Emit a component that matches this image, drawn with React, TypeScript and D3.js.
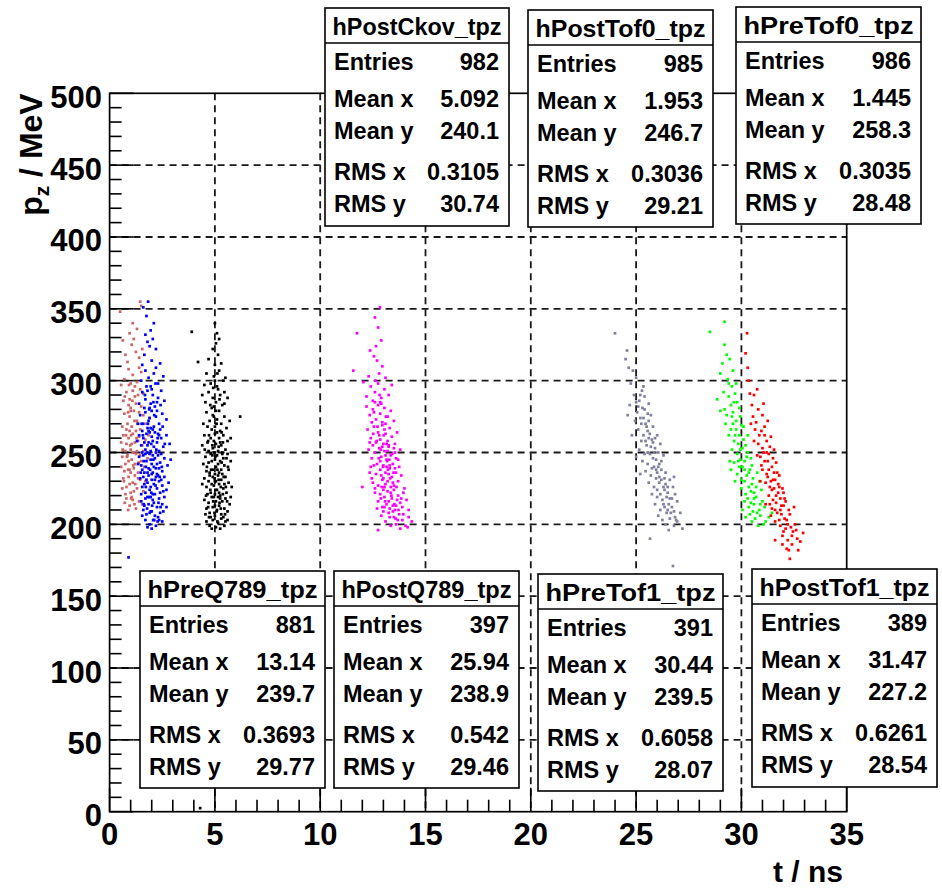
import React from 'react';
import * as d3 from 'd3';

// ---------- data ----------
const xMajorTicks = [0, 5, 10, 15, 20, 25, 30, 35];
const yMajorTicks = [0, 50, 100, 150, 200, 250, 300, 350, 400, 450, 500];
const xGridTicks = [5, 10, 15, 20, 25, 30];
const yGridTicks = [50, 100, 150, 200, 250, 300, 350, 400, 450];

const seriesNames = ['hPreTof0_tpz', 'hPostTof0_tpz', 'hPostCkov_tpz', 'hPreQ789_tpz', 'hPostQ789_tpz', 'hPreTof1_tpz', 'hPostTof1_tpz'];
const statEntries = ['986', '985', '982', '881', '397', '391', '389'];
const statMeanX = ['1.445', '1.953', '5.092', '13.14', '25.94', '30.44', '31.47'];
const statMeanY = ['258.3', '246.7', '240.1', '239.7', '238.9', '239.5', '227.2'];
const statRmsX = ['0.3035', '0.3036', '0.3105', '0.3693', '0.542', '0.6058', '0.6261'];
const statRmsY = ['28.48', '29.21', '30.74', '29.77', '29.46', '28.07', '28.54'];
const statLabels = ['Entries', 'Mean x', 'Mean y', 'RMS x', 'RMS y'];

const hPreTof0 = [
  [1.45,355],[1.5,352],[0.5,348],[1.1,340],[1.3,336],[0.95,333],
  [0.63,328],[1.05,325],[1.25,320],[1.4,316],[0.85,313],[1.15,329],[1.55,322],[0.75,318],
  [0.9,308],[1.1,304],[1.3,299],[1.5,306],[0.7,301],[1.2,296],[1.0,298],[1.4,309],[0.55,297],
  [0.8,292],[0.95,287],[1.1,293],[1.25,284],[1.35,290],[1.5,282],[0.65,286],[1.0,281],[1.2,289],[1.6,291],[0.9,283],[1.45,294],
  [0.7,277],[0.85,270],[0.95,275],[1.05,268],[1.15,279],[1.3,272],[1.45,266],[1.6,276],[1.75,270],[0.6,268],[1.0,279],[1.25,265],[1.4,278],[0.8,266],[1.9,274],
  [0.65,262],[0.8,256],[0.9,260],[1.0,252],[1.1,263],[1.2,257],[1.3,251],[1.4,261],[1.55,255],[1.7,259],[0.75,251],[0.95,265],[1.15,250],[1.35,258],[1.85,262],[1.05,256],[0.55,257],[1.6,251],
  [0.6,247],[0.75,242],[0.85,248],[0.95,238],[1.05,245],[1.15,239],[1.25,249],[1.35,236],[1.5,244],[1.65,240],[0.7,237],[0.9,244],[1.1,250],[1.2,242],[1.45,248],[1.8,246],[1.0,236],[0.55,240],
  [0.65,232],[0.8,226],[0.9,233],[1.0,222],[1.1,229],[1.2,234],[1.3,225],[1.45,231],[1.6,223],[0.75,221],[0.95,228],[1.15,223],[1.35,232],[0.6,225],[1.7,230],
  [0.8,218],[0.95,213],[1.1,217],[1.25,211],[1.4,216],[0.88,210],[1.55,214],[1.05,219],
  [0.72,289],[0.88,278],[1.02,262],[1.18,272],[0.82,247],[0.98,255],[1.12,241],[1.28,260],[0.68,230],[0.88,238],
  [1.02,218],[1.22,228],[0.78,262],[1.38,243],[0.92,297],[1.08,286],[0.62,252],[1.32,270],[0.72,215],[1.18,214]
];

const hPostTof0 = [
  [1.83,355],[1.6,351],[1.75,345],[2.1,340],[1.95,335],[1.7,332],
  [1.8,327],[2.2,322],[1.65,318],[2.0,314],[1.9,324],[2.4,312],[1.55,311],[2.05,329],
  [1.7,307],[1.85,302],[2.1,305],[2.3,298],[1.5,300],[1.95,296],[2.55,303],[1.75,296],[2.2,309],
  [1.55,292],[1.7,287],[1.8,293],[1.95,284],[2.05,290],[2.15,282],[2.3,288],[2.45,293],[1.4,284],[1.9,281],[2.6,286],[1.65,281],[2.0,294],[2.25,285],
  [1.45,276],[1.6,270],[1.7,278],[1.8,267],[1.9,274],[2.0,279],[2.1,268],[2.2,275],[2.35,270],[2.5,277],[1.55,265],[1.85,272],[2.05,266],[2.4,266],[2.7,273],[1.35,270],[1.95,267],[2.25,279],
  [1.4,262],[1.5,255],[1.6,260],[1.7,252],[1.75,263],[1.85,257],[1.95,251],[2.0,261],[2.1,254],[2.15,264],[2.25,257],[2.35,251],[2.45,260],[2.55,254],[2.7,262],[1.55,250],[1.8,255],[2.05,258],[2.3,263],[1.65,257],[1.9,264],[2.2,250],[2.85,256],[1.3,258],
  [1.4,247],[1.5,241],[1.6,248],[1.65,236],[1.75,244],[1.85,239],[1.9,249],[2.0,242],[2.05,236],[2.15,246],[2.2,239],[2.3,248],[2.4,243],[2.5,237],[2.6,246],[2.75,241],[1.55,238],[1.7,249],[1.95,245],[2.1,240],[2.25,235],[2.35,239],[1.8,236],[2.45,249],[2.9,245],[1.35,242],
  [1.45,232],[1.55,226],[1.6,233],[1.7,222],[1.8,229],[1.85,234],[1.9,224],[2.0,231],[2.05,221],[2.1,228],[2.2,233],[2.25,225],[2.35,230],[2.4,222],[2.5,227],[2.6,233],[2.7,224],[1.65,228],[1.95,226],[2.15,221],[2.3,234],[1.75,231],[2.45,231],[2.8,229],[1.5,221],[2.0,235],
  [1.5,216],[1.6,210],[1.7,218],[1.75,207],[1.85,214],[1.95,219],[2.0,209],[2.1,215],[2.15,206],[2.25,212],[2.35,218],[2.4,208],[2.5,214],[2.6,219],[1.65,213],[1.9,208],[2.05,217],[2.3,205],[2.55,209],[1.8,219],[2.7,212],[1.55,206],
  [1.7,203],[1.9,200],[2.07,203],[2.2,199],[2.35,203],[1.8,198],[2.5,202],[2.0,197],[0.9,177],
  [1.62,244],[1.78,250],[1.92,238],[2.08,245],[2.22,252],[2.38,233],[1.72,226],[1.88,219],[2.02,213],[2.18,227],
  [2.32,215],[2.48,240],[1.58,262],[1.82,270],[1.98,256],[2.12,276],[2.28,260],[2.42,283],[1.68,290],[2.18,298],
  [1.95,209],[2.28,202],[1.78,211],[2.12,203],[2.55,223],[2.62,256],[1.48,236],[1.62,214],[2.42,212],[2.05,248],
  [1.85,265],[2.25,242],[1.72,240],[2.15,231],[1.98,222],[2.35,262],[1.88,280],[2.52,268],[1.52,270],[2.08,285]
];

const hPostCkov = [
  [5.0,340],[5.1,333],[3.9,334],[5.2,329],
  [4.9,322],[5.15,318],[4.2,313],[5.05,326],[4.7,315],[5.3,312],[5.0,311],
  [4.6,305],[4.95,303],[5.2,307],[5.4,300],[4.8,298],[5.1,296],[5.5,302],[4.5,297],[5.0,300],
  [4.7,292],[4.9,288],[5.05,285],[5.25,290],[5.35,283],[4.55,285],[5.6,288],[4.85,281],[5.15,294],[4.4,290],[5.45,292],[4.95,282],
  [4.6,278],[4.75,272],[4.9,276],[5.0,268],[5.1,273],[5.2,279],[5.3,270],[5.45,275],[5.55,267],[4.45,270],[4.85,266],[5.05,279],[5.25,265],[6.2,275],[4.65,268],[5.7,272],
  [4.5,262],[4.65,257],[4.8,260],[4.9,253],[5.0,263],[5.05,256],[5.15,251],[5.2,260],[5.3,255],[5.4,262],[5.5,252],[5.6,258],[4.7,251],[4.95,258],[5.1,264],[5.35,250],[4.4,255],[5.75,260],[5.0,250],[5.25,257],
  [4.55,247],[4.7,243],[4.8,249],[4.9,238],[5.0,245],[5.05,240],[5.1,248],[5.2,236],[5.25,244],[5.35,249],[5.45,241],[5.55,246],[5.65,238],[4.6,237],[4.85,244],[4.95,250],[5.15,242],[5.3,238],[5.4,246],[4.45,242],[5.75,244],[5.0,235],[4.75,236],[5.6,249],
  [4.5,232],[4.6,226],[4.7,230],[4.8,222],[4.9,233],[4.95,227],[5.0,221],[5.05,230],[5.1,224],[5.15,234],[5.2,228],[5.25,220],[5.3,231],[5.4,225],[5.5,233],[5.55,222],[5.65,229],[5.8,226],[4.65,221],[4.85,228],[5.35,235],[4.4,228],[5.0,230],[5.2,222],[5.45,228],[4.75,234],
  [4.5,217],[4.6,211],[4.7,215],[4.75,208],[4.85,219],[4.9,212],[5.0,206],[5.05,216],[5.1,210],[5.15,219],[5.2,213],[5.3,207],[5.35,216],[5.45,211],[5.5,218],[5.6,209],[5.7,214],[4.95,219],[5.25,218],[4.8,205],[5.4,205],[4.55,207],[5.75,219],[5.0,213],
  [4.6,202],[4.75,199],[4.9,203],[5.05,198],[5.15,201],[5.3,204],[5.45,199],[5.6,203],[4.85,197],[5.25,197],[5.5,202],[4.3,2.5],
  [4.72,262],[4.88,255],[5.02,247],[5.18,254],[5.32,243],[4.62,240],[4.98,232],[5.12,238],[5.28,226],[4.78,224],
  [4.92,216],[5.08,209],[5.22,215],[5.38,221],[4.68,212],[5.52,226],[4.82,238],[5.42,233],[5.58,216],[4.58,220],
  [5.12,202],[4.98,208],[5.28,211],[4.72,205],[5.48,207],[5.02,224],[5.18,231],[4.88,248],[5.38,257],[5.08,270],
  [4.78,283],[5.22,287],[4.92,295],[5.12,305],[4.68,258],[5.62,240],[4.52,252],[5.32,264],[4.95,275],[5.45,284]
];

const hPreQ789 = [
  [12.84,351],[12.6,344],[11.75,333],[12.75,337],[12.9,328],[12.65,324],
  [12.37,321],[12.7,314],[11.57,307],[12.95,310],[12.55,317],[12.8,305],[13.1,302],[12.3,303],
  [12.05,299],[12.4,296],[12.6,292],[12.75,298],[12.9,288],[13.05,294],[13.25,290],[12.5,286],[12.2,289],[13.4,297],[12.85,285],
  [12.2,282],[12.35,276],[12.5,280],[12.65,273],[12.75,283],[12.85,277],[12.95,271],[13.05,281],[13.2,275],[13.35,279],[13.5,272],[12.45,271],[12.6,285],[13.1,270],[12.9,284],
  [12.25,266],[12.4,260],[12.55,268],[12.65,257],[12.75,264],[12.85,259],[12.95,269],[13.0,256],[13.1,263],[13.2,258],[13.3,267],[13.4,261],[13.55,256],[12.5,255],[12.8,262],[13.05,266],[13.25,255],[13.65,264],[12.35,257],
  [12.3,252],[12.45,246],[12.6,250],[12.7,242],[12.8,253],[12.9,247],[13.0,241],[13.05,251],[13.15,245],[13.25,254],[13.35,248],[13.45,242],[13.55,250],[13.7,245],[12.55,241],[12.85,244],[12.95,254],[13.1,248],[13.3,241],[13.5,253],[12.4,240],[13.2,251],[13.8,252],
  [12.35,236],[12.5,229],[12.65,235],[12.75,227],[12.85,238],[12.95,231],[13.05,226],[13.1,236],[13.2,230],[13.3,239],[13.4,233],[13.5,227],[13.6,236],[13.7,230],[13.85,234],[12.6,225],[12.9,234],[13.15,240],[13.35,226],[13.55,239],[12.0,226],[13.0,232],[13.25,235],[13.45,229],
  [12.6,222],[12.75,216],[12.85,221],[12.95,212],[13.05,219],[13.15,214],[13.2,223],[13.3,211],[13.4,218],[13.5,224],[13.6,213],[13.7,220],[13.8,215],[13.95,222],[14.1,217],[12.7,211],[13.0,224],[13.25,216],[13.45,213],[13.65,217],[13.9,212],[13.35,222],[13.55,210],[14.0,225],
  [12.75,196],[12.9,206],[13.1,202],[13.25,208],[13.35,199],[13.5,205],[13.6,200],[13.75,207],[13.9,203],[14.05,199],[14.2,205],[14.15,198],[13.45,209],[13.8,197],[13.0,209],[14.35,202],
  [12.55,278],[12.72,268],[12.88,252],[13.02,262],[13.18,244],[13.32,232],[12.78,246],[12.92,226],[13.08,216],[13.22,238],
  [13.38,220],[13.52,214],[13.62,226],[13.72,210],[13.85,218],[13.58,204],[13.3,205],[13.1,228],[12.98,240],[12.68,258],
  [12.52,263],[13.15,256],[13.42,249],[12.82,290],[12.62,300],[13.28,245],[13.48,236],[13.68,203],[13.95,207],[14.2,210],
  [13.05,212],[12.88,218],[13.75,240],[12.45,232],[13.12,275],[13.6,246]
];

const hPostQ789 = [
  [24.0,333],[24.57,321],[24.85,307],[24.5,315],[24.75,298],[25.0,302],[25.28,293],[24.9,290],[25.15,286],[24.7,283],
  [25.4,289],[25.05,278],[25.3,281],[25.6,284],[24.95,272],[25.2,274],[25.45,270],[25.7,276],[25.1,266],[25.35,262],
  [25.55,265],[25.8,268],[25.25,258],[25.5,255],[25.75,259],[26.0,262],[25.15,252],[25.4,249],[25.66,249],[25.9,253],
  [26.15,256],[25.3,244],[25.55,242],[25.8,246],[26.05,240],[26.3,248],[25.0,247],[25.45,237],[25.7,234],[25.95,238],
  [26.1,233],[26.4,236],[25.6,229],[25.85,226],[26.1,229],[26.35,224],[26.6,231],[25.75,221],[26.0,219],[26.25,217],
  [26.5,222],[26.75,226],[26.3,214],[26.15,210],[26.45,208],[26.7,212],[26.95,216],[26.6,204],[26.9,203],[26.4,200],
  [27.2,197],[25.66,190],[26.8,199],[26.05,206],[27.1,208],[25.2,235],[24.8,262],[25.9,214],[26.55,196],[25.35,296],
  [24.65,309],[26.2,244],[25.6,260],[24.6,276],[26.8,233],[26.75,171],
  [25.1,282],[25.35,274],[25.5,268],[25.65,263],[25.7,254],[25.85,250],[25.95,245],[26.0,236],[26.2,231],[26.3,226],
  [26.45,219],[26.55,214],[26.65,208],[26.85,205],[25.55,277],[25.8,257],[26.1,242],[26.4,228],[26.6,218],[25.25,270],
  [25.45,258],[25.75,239],[26.0,224],[26.25,203],[26.85,221],
  [25.2,290],[25.4,280],[25.6,272],[25.9,260],[26.05,250],[26.2,238],[26.35,232],[26.5,226],[26.7,218],[26.5,210],
  [26.8,209],[26.95,202],[25.85,240],[25.55,250],[26.15,221],[25.0,285],[25.95,232],[26.35,212]
];

const hPreTof1 = [
  [28.5,334],[29.2,341],[29.2,325],[29.3,318],[29.1,312],[29.45,315],[29.0,305],[29.35,301],[29.6,307],[29.55,296],
  [28.85,287],[29.15,292],[29.4,289],[29.7,291],[29.5,283],[29.8,285],[29.0,279],[29.3,276],[29.6,278],[29.9,281],
  [29.25,270],[29.5,266],[29.75,272],[30.0,269],[29.4,262],[29.65,258],[29.9,262],[30.1,259],[29.55,252],[29.8,249],
  [30.05,253],[30.25,247],[29.65,243],[29.9,240],[30.15,244],[30.4,238],[29.8,235],[30.0,231],[30.25,234],[30.5,228],
  [30.0,225],[30.2,221],[30.45,223],[30.7,219],[30.15,216],[30.35,212],[30.6,214],[30.85,210],[30.4,207],[30.65,204],
  [30.9,206],[31.15,202],[30.8,199],[31.3,205],[30.55,232],[30.3,250],[29.95,275],[30.7,226],[30.05,210],[29.7,230],
  [29.45,244],[30.1,268],[31.0,216],[30.5,241],[29.85,256],[30.3,262],[29.6,270],[30.75,236],[29.2,280],[30.95,224],
  [31.1,212],[30.2,205],[29.5,238],[31.45,208],
  [29.75,298],[29.95,245],[30.35,226],[30.6,218],[30.45,246],[29.7,262],[30.15,238],[30.85,230],[31.05,200],[30.55,209],
  [29.55,275],[29.75,266],[29.95,252],[30.15,230],[30.3,218],[30.45,215],[30.6,222],[30.75,208],[30.9,214],[30.05,240],
  [29.85,244],[30.2,255],[29.65,285],[30.5,202],[30.35,236],[29.4,298]
];

const hPostTof1 = [
  [30.27,333],[30.2,319],[30.3,309],[30.35,300],[30.4,291],[30.6,290],[30.75,294],[30.5,283],[30.8,280],[30.55,275],
  [30.7,271],[31.0,276],[30.65,266],[30.85,262],[31.1,268],[31.25,272],[30.8,256],[31.0,253],[31.2,258],[31.4,261],
  [30.9,247],[31.1,244],[31.3,249],[31.55,252],[31.0,238],[31.2,235],[31.45,240],[31.65,243],[31.15,229],[31.35,226],
  [31.6,231],[31.8,234],[31.3,220],[31.5,217],[31.75,222],[31.95,225],[31.45,211],[31.7,208],[31.9,213],[32.1,216],
  [31.6,202],[31.85,199],[32.05,204],[32.3,207],[31.95,192],[32.2,189],[32.45,195],[32.15,183],[32.4,186],[32.65,190],
  [32.3,176],[32.93,194],[32.7,182],[31.05,284],[31.5,231],[31.85,218],[32.1,197],[31.25,244],[30.95,241],[31.4,206],
  [32.0,222],[30.6,258],[31.7,236],[32.55,200],[31.15,214],[30.9,230],[31.6,189],[31.35,254],[30.45,270],[32.25,210],
  [31.55,225],[32.8,188],[31.8,203],[31.05,250],[32.5,212],
  [31.65,215],[31.9,207],[32.0,195],[31.45,224],[31.25,233],[31.75,228],[30.75,248],[32.35,198],[32.15,203],[31.5,246],
  [31.1,262],[31.3,238],[31.55,236],[31.65,220],[31.85,210],[32.0,213],[32.2,200],[32.4,192],[32.6,196],[31.95,186],
  [31.4,230],[31.2,250],[31.8,226],[32.05,218],[31.6,210],[32.25,182],[31.35,214],[30.95,265]
];

const seriesData = [hPreTof0, hPostTof0, hPostCkov, hPreQ789, hPostQ789, hPreTof1, hPostTof1];

// ---------- styles / layout ----------
const seriesColors = ['#cc6666', '#0000ff', '#000000', '#ff00ff', '#8080a0', '#00ff00', '#ff0000'];
const boxLayout = [
  { x0: 736, y0: 7, x1: 921, y1: 224 },
  { x0: 528, y0: 10, x1: 713, y1: 227 },
  { x0: 325, y0: 8, x1: 509, y1: 226 },
  { x0: 140, y0: 571, x1: 325, y1: 788 },
  { x0: 334, y0: 571, x1: 519, y1: 788 },
  { x0: 538, y0: 574, x1: 723, y1: 791 },
  { x0: 752, y0: 569, x1: 937, y1: 787 },
];
const rowOffsets = [62, 99, 131, 172, 204];
const FONT = '"Liberation Sans", Arial, Helvetica, sans-serif';

const W = 942;
const H = 890;
const PL = 109.6, PR = 846.7, PT = 93.3, PB = 811.7;

export default function App() {
  const x = d3.scaleLinear().domain([0, 35]).range([PL, PR]);
  const y = d3.scaleLinear().domain([0, 500]).range([PB, PT]);
  const xMinor = d3.range(0, 36, 1);
  const yMinor = d3.range(0, 501, 10);
  const ms = 2.7;

  return (
    <svg width={W} height={H} style={{ position: 'absolute', left: 0, top: 0, display: 'block', background: '#fff' }}
      fontFamily={FONT}>
      <rect x={0} y={0} width={W} height={H} fill="#fff" />
      {/* grid */}
      <g stroke="#1a1a1a" strokeWidth={1.8} strokeDasharray="7,5" fill="none">
        {xGridTicks.map(t => <line key={'gx' + t} x1={x(t)} x2={x(t)} y1={PT} y2={PB} />)}
        {yGridTicks.map(t => <line key={'gy' + t} x1={PL} x2={PR} y1={y(t)} y2={y(t)} />)}
      </g>
      {/* ticks */}
      <g stroke="#000" strokeWidth={1.6}>
        {yMinor.map(t => {
          const major = t % 50 === 0;
          return <line key={'ty' + t} x1={PL} x2={PL + (major ? 24 : 12)} y1={y(t)} y2={y(t)} />;
        })}
        {xMinor.map(t => {
          const major = t % 5 === 0;
          return <line key={'tx' + t} x1={x(t)} x2={x(t)} y1={PB} y2={PB - (major ? 24 : 12)} />;
        })}
      </g>
      {/* frame */}
      <rect x={PL} y={PT} width={PR - PL} height={PB - PT} fill="none" stroke="#000" strokeWidth={1.7} />
      {/* points */}
      {seriesData.map((pts, si) => (
        <g key={'s' + si} fill={seriesColors[si]}>
          {pts.map((p, i) => (
            <rect key={i} x={x(p[0]) - ms / 2} y={y(p[1]) - ms / 2} width={ms} height={ms} />
          ))}
        </g>
      ))}
      {/* tick labels */}
      <g fontWeight="bold" fontSize={31} fill="#000">
        {yMajorTicks.map(t => (
          <text key={'ly' + t} x={102} y={y(t) + 14.5} textAnchor="end">{t}</text>
        ))}
        {xMajorTicks.map(t => (
          <text key={'lx' + t} x={x(t)} y={845} textAnchor="middle">{t}</text>
        ))}
      </g>
      {/* axis titles */}
      <text x={843} y={882} textAnchor="end" fontWeight="bold" fontSize={30}>t / ns</text>
      <text transform={`translate(42,${PT}) rotate(-90)`} textAnchor="end" fontWeight="bold" fontSize={32}>
        p<tspan fontSize={21} dy={7}>z</tspan><tspan dy={-7}> / MeV</tspan>
      </text>
      {/* stats boxes */}
      {boxLayout.map((b, i) => {
        const vals = [statEntries[i], statMeanX[i], statMeanY[i], statRmsX[i], statRmsY[i]];
        const w = b.x1 - b.x0;
        return (
          <g key={'box' + i}>
            <rect x={b.x0} y={b.y0} width={w} height={b.y1 - b.y0} fill="#fff" stroke="#000" strokeWidth={1.6} />
            <line x1={b.x0} x2={b.x1} y1={b.y0 + 35} y2={b.y0 + 35} stroke="#000" strokeWidth={1.6} />
            <text x={(b.x0 + b.x1) / 2} y={b.y0 + 27} textAnchor="middle" fontWeight="bold" fontSize={24}
              textLength={w - 15} lengthAdjust="spacingAndGlyphs">{seriesNames[i]}</text>
            {statLabels.map((lab, r) => (
              <g key={r} fontWeight="bold" fontSize={23.5}>
                <text x={b.x0 + 9} y={b.y0 + rowOffsets[r]}>{lab}</text>
                <text x={b.x1 - 10} y={b.y0 + rowOffsets[r]} textAnchor="end">{vals[r]}</text>
              </g>
            ))}
          </g>
        );
      })}
    </svg>
  );
}
